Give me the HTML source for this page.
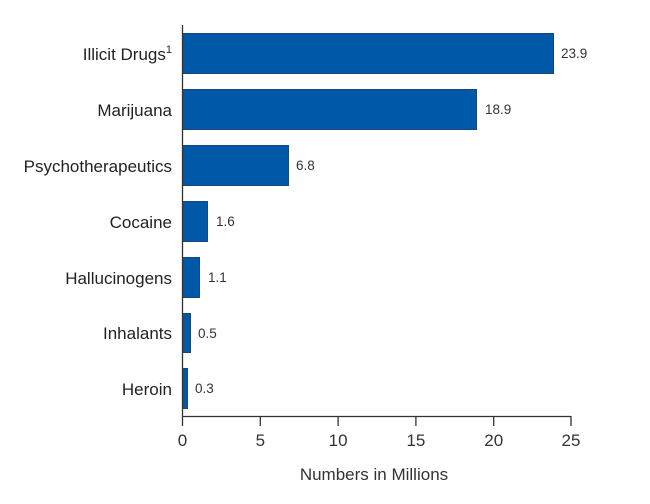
<!DOCTYPE html>
<html><head><style>body{margin:0;background:#fff}</style></head><body>
<svg width="650" height="499" xmlns="http://www.w3.org/2000/svg" font-family="Liberation Sans, Arial, sans-serif" fill="#222">
<g fill="#0059a8" stroke="#1b4677" stroke-width="1">
<rect x="182.5" y="33.5" width="371" height="40"/>
<rect x="182.5" y="89.5" width="294" height="40"/>
<rect x="182.5" y="145.5" width="106" height="40"/>
<rect x="182.5" y="201.5" width="25" height="40"/>
<rect x="182.5" y="257.5" width="17" height="40"/>
<rect x="182.5" y="313.5" width="8" height="39"/>
<rect x="182.5" y="368.5" width="5" height="40"/>
</g>
<g stroke="#333" stroke-width="1.3" fill="none">
<line x1="182.5" y1="25" x2="182.5" y2="426"/>
<line x1="182" y1="416.5" x2="571" y2="416.5"/>
<line x1="260.3" y1="416" x2="260.3" y2="426"/>
<line x1="338.1" y1="416" x2="338.1" y2="426"/>
<line x1="415.9" y1="416" x2="415.9" y2="426"/>
<line x1="493.7" y1="416" x2="493.7" y2="426"/>
<line x1="571" y1="416" x2="571" y2="426"/>
</g>
<g font-size="17" text-anchor="end">
<text x="172" y="60">Illicit Drugs<tspan font-size="11" dy="-7">1</tspan></text>
<text x="172" y="116">Marijuana</text>
<text x="172" y="172">Psychotherapeutics</text>
<text x="172" y="228">Cocaine</text>
<text x="172" y="284">Hallucinogens</text>
<text x="172" y="339">Inhalants</text>
<text x="172" y="395">Heroin</text>
</g>
<g font-size="13.5" fill="#333">
<text x="561" y="58">23.9</text>
<text x="485" y="114">18.9</text>
<text x="296" y="170">6.8</text>
<text x="216" y="226">1.6</text>
<text x="208" y="282">1.1</text>
<text x="198" y="338">0.5</text>
<text x="195" y="393">0.3</text>
</g>
<g font-size="17" text-anchor="middle" fill="#333">
<text x="182.5" y="446">0</text>
<text x="260.3" y="446">5</text>
<text x="338.1" y="446">10</text>
<text x="415.9" y="446">15</text>
<text x="493.7" y="446">20</text>
<text x="571" y="446">25</text>
<text x="374" y="480">Numbers in Millions</text>
</g>
</svg>
</body></html>
